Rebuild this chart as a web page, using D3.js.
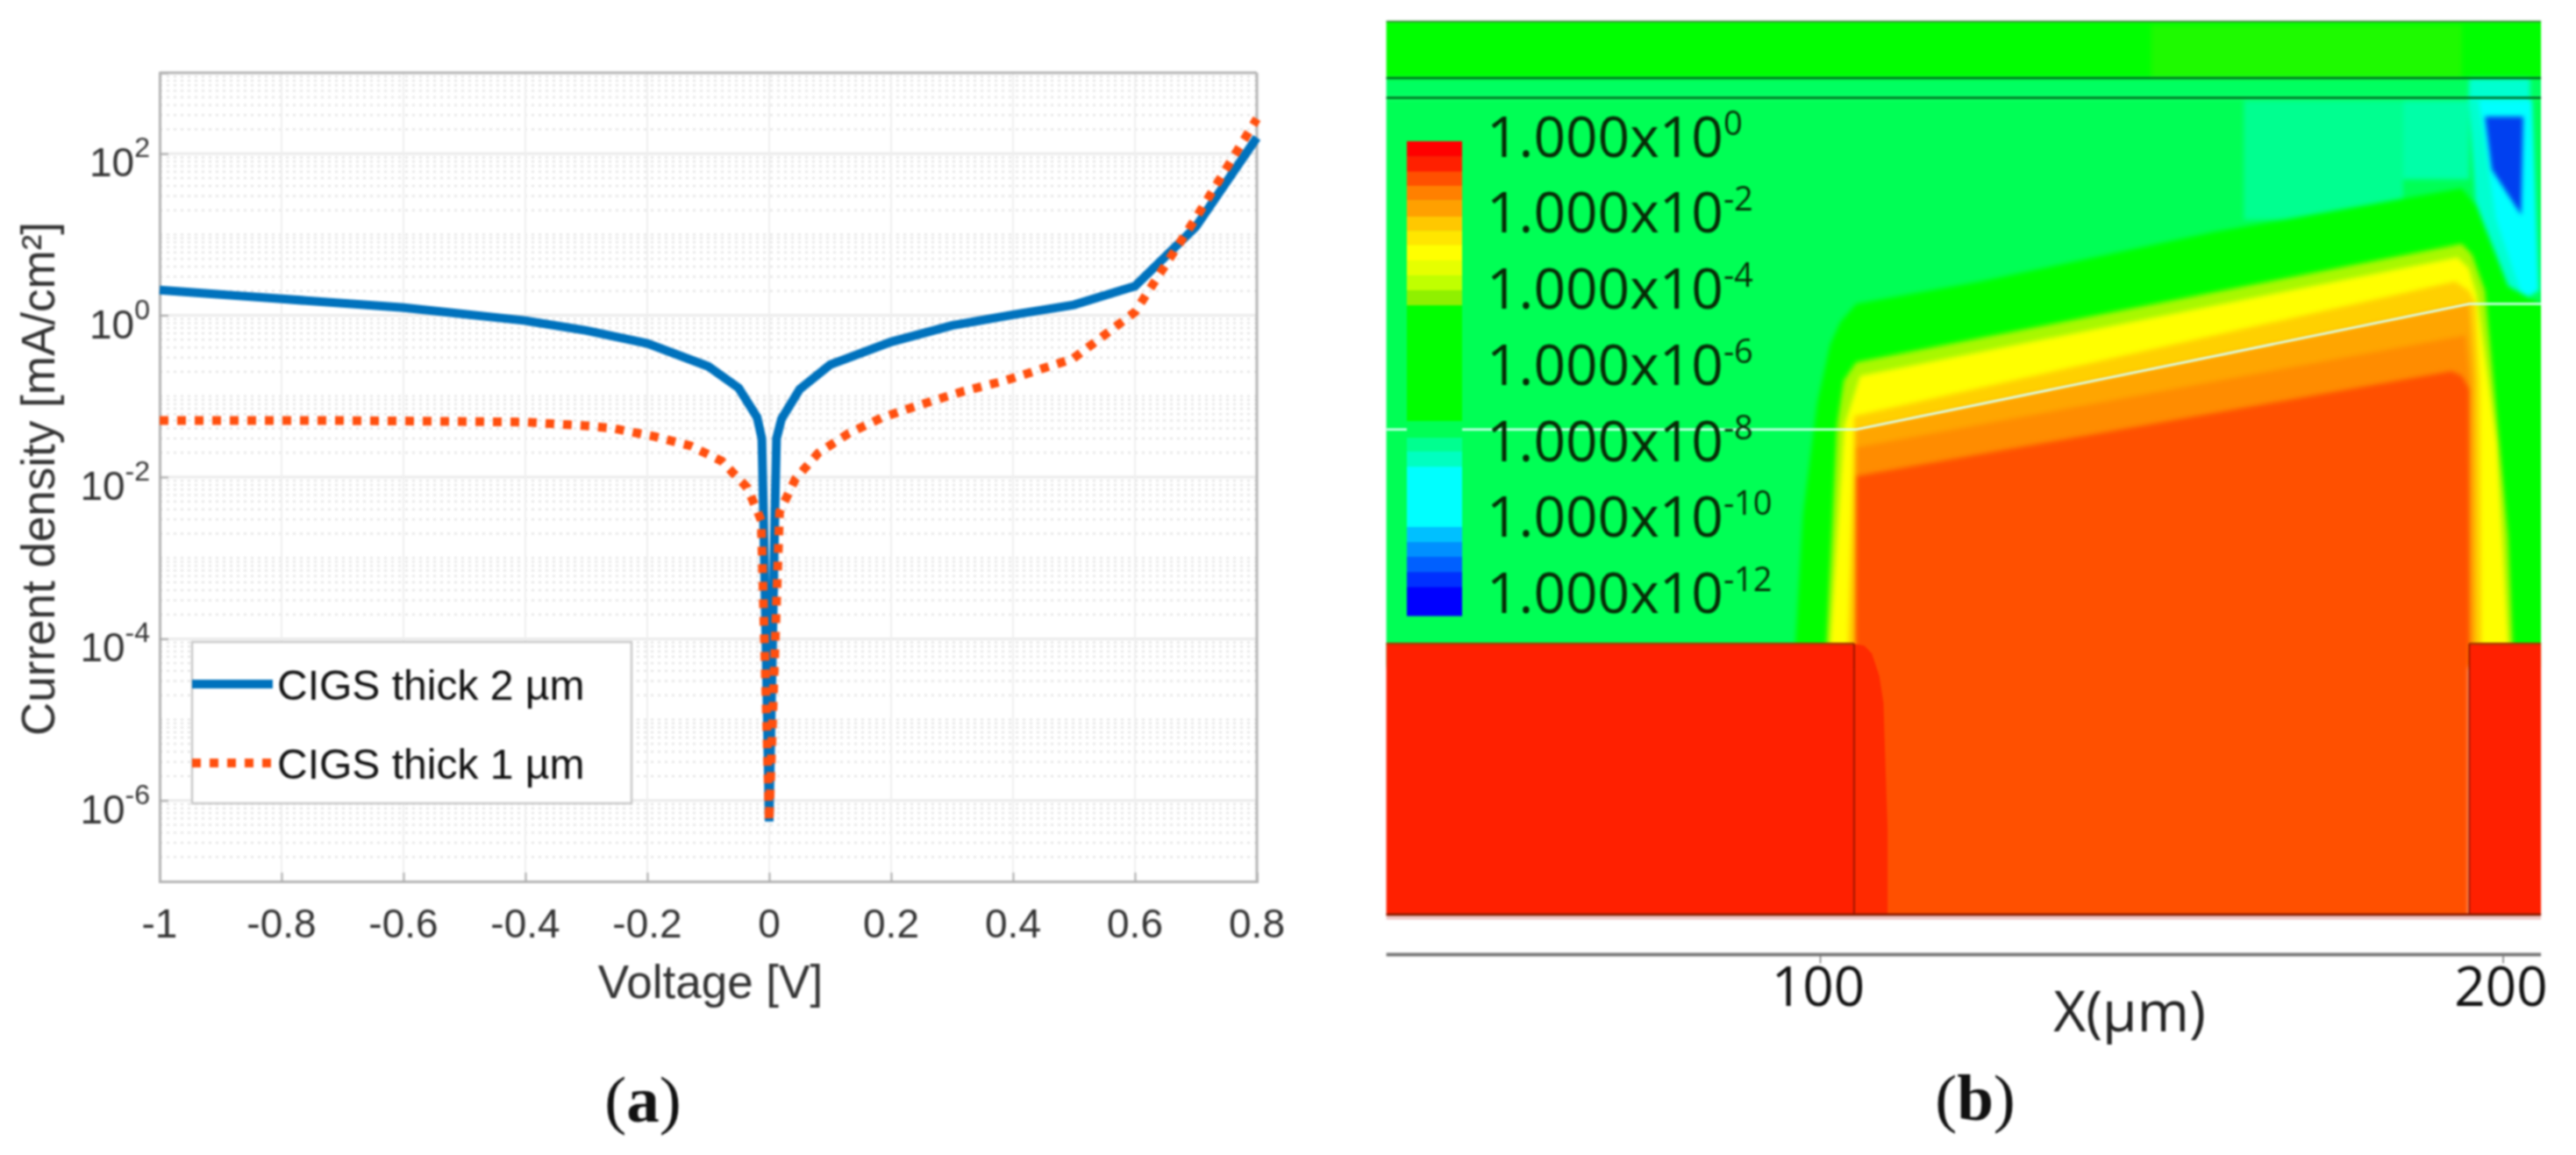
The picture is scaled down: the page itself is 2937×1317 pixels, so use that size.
<!DOCTYPE html>
<html><head><meta charset="utf-8">
<script src="https://cdn.jsdelivr.net/npm/d3@7"></script>
<style>html,body{margin:0;background:#fff}svg{display:block}</style></head>
<body><svg id="c" width="2937" height="1317"></svg>
<script>
// ---- panel (a) data
const xTicks=[-1,-0.8,-0.6,-0.4,-0.2,0,0.2,0.4,0.6,0.8];
const yExponents=[2,0,-2,-4,-6];
const thick2V=[-1,-0.8,-0.6,-0.4,-0.3,-0.2,-0.1,-0.05,-0.02,-0.012,-0.0095,0,0.0095,0.012,0.02,0.05,0.1,0.2,0.3,0.4,0.5,0.6,0.7,0.8];
const thick2J=[2.05,1.6,1.25,0.86,0.65,0.45,0.234,0.126,0.055,0.03,0.004,5.5e-7,0.004,0.03,0.052,0.122,0.245,0.47,0.75,1.02,1.35,2.3,12.5,158];
const thick1V=[-1,-0.7,-0.4,-0.3,-0.255,-0.187,-0.13,-0.078,-0.036,-0.013,0,0.017,0.043,0.081,0.131,0.187,0.242,0.32,0.386,0.498,0.6,0.7,0.8];
const thick1J=[0.05,0.05,0.048,0.043,0.04,0.0316,0.0245,0.0158,0.0074,0.0029,5.5e-7,0.0037,0.0095,0.02,0.035,0.055,0.076,0.116,0.155,0.29,1.1,16,270];
const legendNames=["CIGS thick 2 µm","CIGS thick 1 µm"];

// ---- panel (b) data: x in µm, depth in % of the panel
const xTicksB=[100,200];
const legendExponents=[0,-2,-4,-6,-8,-10,-12];
const barEdges=[0,3.2,6.4,9.4,12.4,15.9,18.9,21.9,25.1,28.3,31.4,34.6,59,62.5,65.4,68.6,81.3,84.5,87.6,90.8,94,100];
const barColors=["#ff0000","#ff2000","#ff5000","#ff8000","#ffa000","#ffc800","#ffe600","#ffff00","#e6ff00","#c0ff00","#90f000","#00ff00","#00ff55","#00ff90","#00ffc0","#00ffff","#00c0ff","#0090ff","#0060ff","#0030ff","#0000ff"];
const regions=[
 ["#00ff00",[[30,-3],[212,-3],[212,6.3],[30,6.3]]],
 ["#1efa00",[[148.5,0.4],[194,0.4],[194,6.3],[148.5,6.3]]],
 ["#00ff60",[[30,6.3],[212,6.3],[212,8.5],[30,8.5]]],
 ["#00ff55",[[30,8.5],[212,8.5],[212,72],[30,72]]],
 ["#00ff90",[[162.1,8.8],[185.4,8.8],[185.4,22.1],[162.1,22.1]]],
 ["#00ffa8",[[185.4,8.8],[195.1,8.8],[195.1,17.6],[185.4,17.6]]],
 ["#00ffd0",[[195.1,6.3],[204,6.3],[204,31.5],[201.6,31.5],[199,27],[196,20],[195,8.5]]],
 ["#00ffff",[[196.5,8.8],[204.3,8.8],[205.3,30],[203,31],[199,22]]],
 ["#0040f0",[[197.4,10.6],[203,10.6],[202.7,21.6],[198.4,16.5]]],
 ["#00ff00",[[96.2,72],[97.5,55],[99.6,42.5],[101.5,36],[103,33.5],[105.3,31.5],[123.5,29],[157.6,23.5],[194,18.6],[196.2,20.6],[200.8,29.5],[205.6,31.5],[212,31.5],[212,72]]],
 ["#a8f800",[[100.8,72],[102.5,45],[103.5,40],[105.3,38],[194,24.8],[195.5,26],[197.4,30],[200.8,57.5],[201.6,72]]],
 ["#ffff00",[[101.3,72],[103.6,45],[105.9,39.5],[193.4,26.3],[195,27.5],[196.2,30.5],[199.1,47],[201,72]]],
 ["#ffd000",[[104,72],[105,44],[193,29],[195,30],[196,31.5],[196.6,40],[196.9,72]]],
 ["#ffa500",[[105,72],[105.3,45.5],[195.1,31.5],[195.8,40],[196,72]]],
 ["#ff8c00",[[105.3,47.5],[194.5,35],[195.1,40],[195.4,72],[105.3,72]]],
 ["#ff5000",[[105.3,50.7],[192.5,39],[194,39.5],[195.1,41],[195.1,102],[105,102]]]
];
const electrodes=[
 ["#ff2000",[[36.5,69.4],[105,69.4],[105,99.7],[36.5,99.7]]],
 ["#ff2000",[[195.1,69.4],[205.6,69.4],[205.6,99.7],[195.1,99.7]]],
 ["#ff2a00",[[105,69.4],[106.5,69.6],[107.6,70.5],[108.7,73],[109.3,76],[109.9,90],[109.9,99.7],[105,99.7]]]
];
const junction=[[36.5,45.5],[105.3,45.5],[195.1,31.5],[205.6,31.5]];
const layerLines=[6.3,8.5];

// ---- drawing
const svg=d3.select("#c");
const root=svg.append("g").style("filter","blur(0.9px)");
const A=root.append("g"), B=root.append("g");
const SANS='"Liberation Sans",Arial,sans-serif', OPEN='"Open Sans",sans-serif', SERIF='"Liberation Serif",serif';

const x=d3.scaleLinear().domain([-1,0.8]).range([182,1433]);
const y=d3.scaleLog().domain([1e-7,1e3]).range([1005,83]);
const minorV=d3.range(-7,3).flatMap(e=>d3.range(1,10).filter(m=>m>1||e%2!==0).map(m=>m*Math.pow(10,e)));

A.selectAll(".minor").data(minorV).join("line").attr("x1",182).attr("x2",1433)
 .attr("y1",d=>y(d)).attr("y2",d=>y(d)).attr("stroke","#e0e0e0").attr("stroke-width",2).attr("stroke-dasharray","3 5");
A.selectAll(".maj").data(yExponents).join("line").attr("x1",182).attr("x2",1433)
 .attr("y1",d=>y(Math.pow(10,d))).attr("y2",d=>y(Math.pow(10,d))).attr("stroke","#ebebeb").attr("stroke-width",3);
A.selectAll(".vg").data(xTicks).join("line").attr("x1",d=>x(d)).attr("x2",d=>x(d)).attr("y1",83).attr("y2",1005)
 .attr("stroke","#efefef").attr("stroke-width",2);
// box
const gx=A.append("g").attr("transform","translate(0,1005)").call(d3.axisBottom(x).tickValues(xTicks).tickSize(-10).tickFormat(d=>d).tickPadding(0));
gx.selectAll("text").remove(); gx.selectAll("line").attr("stroke","#aaa").attr("stroke-width",2);
gx.select("path").attr("stroke","#b4b4b4").attr("stroke-width",3);
const gy=A.append("g").attr("transform","translate(182,0)").call(d3.axisLeft(y).tickValues(yExponents.map(e=>Math.pow(10,e))).tickSize(-10).tickFormat(""));
gy.selectAll("line").attr("stroke","#aaa").attr("stroke-width",2);
gy.select("path").attr("stroke","#b4b4b4").attr("stroke-width",3);
A.append("line").attr("x1",182).attr("x2",1433).attr("y1",y(1e3)).attr("y2",y(1e3)).attr("stroke","#b4b4b4").attr("stroke-width",3);
A.append("line").attr("x1",1433).attr("x2",1433).attr("y1",83).attr("y2",1005).attr("stroke","#b4b4b4").attr("stroke-width",3);

const line=d3.line().x(d=>x(d[0])).y(d=>y(d[1]));
const BLUE="#0072bd", ORANGE="#ff4f0e";
A.append("path").attr("d",line(d3.zip(thick2V,thick2J))).attr("fill","none").attr("stroke",BLUE).attr("stroke-width",10);
A.append("path").attr("d",line(d3.zip(thick1V,thick1J))).attr("fill","none").attr("stroke",ORANGE).attr("stroke-width",10).attr("stroke-dasharray","10 10");

A.selectAll(".xl").data(xTicks).join("text").attr("x",d=>x(d)).attr("y",1069).attr("text-anchor","middle")
 .attr("font-family",SANS).attr("font-size",46).attr("fill","#333").text(d=>d);
const yl=A.selectAll(".yl").data(yExponents).join("text").attr("x",171).attr("y",d=>y(Math.pow(10,d))+26).attr("text-anchor","end")
 .attr("font-family",SANS).attr("font-size",46).attr("fill","#333");
yl.append("tspan").text("10");
yl.append("tspan").attr("dy",-22).attr("font-size",32).text(d=>d);
A.append("text").attr("x",810).attr("y",1138).attr("text-anchor","middle").attr("font-family",SANS).attr("font-size",53).attr("fill","#333").text("Voltage [V]");
A.append("text").attr("transform","translate(62,546) rotate(-90)").attr("text-anchor","middle").attr("font-family",SANS).attr("font-size",53).attr("fill","#333").text("Current density [mA/cm²]");
// legend
A.append("rect").attr("x",219).attr("y",732).attr("width",501).attr("height",184).attr("fill","#fff").attr("stroke","#c8c8c8").attr("stroke-width",2.5);
[[BLUE,780,null],[ORANGE,870,"10 10"]].forEach((s,i)=>{
 A.append("line").attr("x1",219).attr("x2",311).attr("y1",s[1]).attr("y2",s[1]).attr("stroke",s[0]).attr("stroke-width",10).attr("stroke-dasharray",s[2]);
 A.append("text").attr("x",316).attr("y",s[1]+18).attr("font-family",SANS).attr("font-size",48).attr("fill","#111").text(legendNames[i]);
});
A.append("text").attr("x",733).attr("y",1279).attr("text-anchor","middle").attr("font-family",SERIF).attr("font-size",75).attr("fill","#111")
 .html('(<tspan font-weight="bold">a</tspan>)');

// ---- panel b
const ux=d3.scaleLinear().domain([100,200]).range([2075,2853.5]);
const dy=d3.scaleLinear().domain([0,100]).range([24.5,1047]);
const poly=d3.line().x(d=>ux(d[0])).y(d=>dy(d[1]));
svg.append("defs").append("clipPath").attr("id","panel").append("rect")
 .attr("x",ux(36.5)).attr("y",dy(0)).attr("width",ux(205.6)-ux(36.5)).attr("height",dy(99.7)-dy(0));
const field=B.append("g").attr("clip-path","url(#panel)").append("g").style("filter","blur(2.5px)");
field.selectAll(".r").data(regions).join("path").attr("d",d=>poly(d[1])+"Z").attr("fill",d=>d[0]);
B.selectAll(".e").data(electrodes).join("path").attr("d",d=>poly(d[1])+"Z").attr("fill",d=>d[0]);
// separators
B.selectAll(".ll").data(layerLines).join("line").attr("x1",ux(36.5)).attr("x2",ux(205.6)).attr("y1",d=>dy(d)).attr("y2",d=>dy(d)).attr("stroke","#006a20").attr("stroke-width",2.5);
B.append("line").attr("x1",ux(36.5)).attr("x2",ux(205.6)).attr("y1",dy(0)).attr("y2",dy(0)).attr("stroke","#3a8a3a").attr("stroke-width",2);
B.append("path").attr("d",poly(junction)).attr("fill","none").attr("stroke","#d8fff4").attr("stroke-width",2.5);
B.append("line").attr("x1",ux(36.5)).attr("x2",ux(105)).attr("y1",dy(69.4)).attr("y2",dy(69.4)).attr("stroke","#a83a00").attr("stroke-width",2.5);
B.append("line").attr("x1",ux(195.1)).attr("x2",ux(205.6)).attr("y1",dy(69.4)).attr("y2",dy(69.4)).attr("stroke","#a83a00").attr("stroke-width",2.5);
[105,195.1].forEach(v=>B.append("line").attr("x1",ux(v)).attr("x2",ux(v)).attr("y1",dy(69.4)).attr("y2",dy(99.7)).attr("stroke","#801000").attr("stroke-width",1.5));
B.append("line").attr("x1",ux(36.5)).attr("x2",ux(205.6)).attr("y1",dy(99.6)).attr("y2",dy(99.6)).attr("stroke","#8a1a00").attr("stroke-width",3);
B.append("line").attr("x1",ux(36.5)).attr("x2",ux(205.6)).attr("y1",dy(100)).attr("y2",dy(100)).attr("stroke","#f0c0c0").attr("stroke-width",3);
// colour bar
const by=d3.scaleLinear().domain([0,100]).range([161,702]);
B.selectAll(".bar").data(barColors).join("rect").attr("x",1604).attr("width",63)
 .attr("y",(d,i)=>by(barEdges[i])).attr("height",(d,i)=>by(barEdges[i+1])-by(barEdges[i])+0.5).attr("fill",d=>d);
const ly=d3.scaleLinear().domain([0,-12]).range([178.6,699]);
const lt=B.selectAll(".lt").data(legendExponents).join("text").attr("x",1695).attr("y",d=>ly(d))
 .attr("font-family",OPEN).attr("font-size",64).attr("fill","#062a06");
lt.append("tspan").text("1.000x10");
lt.append("tspan").attr("dy",-25).attr("font-size",38).text(d=>d);
// axis
const ga=B.append("g").attr("transform","translate(0,1088.5)").call(d3.axisBottom(ux).tickValues(xTicksB).tickSize(10).tickFormat(""));
ga.select("path").attr("d",`M${ux(36.5)},0H${ux(205.6)}`).attr("stroke","#777").attr("stroke-width",4);
ga.selectAll("line").attr("stroke","#777").attr("stroke-width",1.5);
B.selectAll(".bt").data(xTicksB).join("text").attr("x",d=>ux(d)-2).attr("y",1147).attr("text-anchor","middle")
 .attr("font-family",OPEN).attr("font-size",62).attr("fill","#111").text(d=>d);
B.append("text").attr("x",2428).attr("y",1176).attr("text-anchor","middle").attr("font-family",OPEN).attr("font-size",64).attr("fill","#222").text("X(µm)");
B.append("text").attr("x",2252).attr("y",1277).attr("text-anchor","middle").attr("font-family",SERIF).attr("font-size",75).attr("fill","#111")
 .html('(<tspan font-weight="bold">b</tspan>)');
</script></body></html>
